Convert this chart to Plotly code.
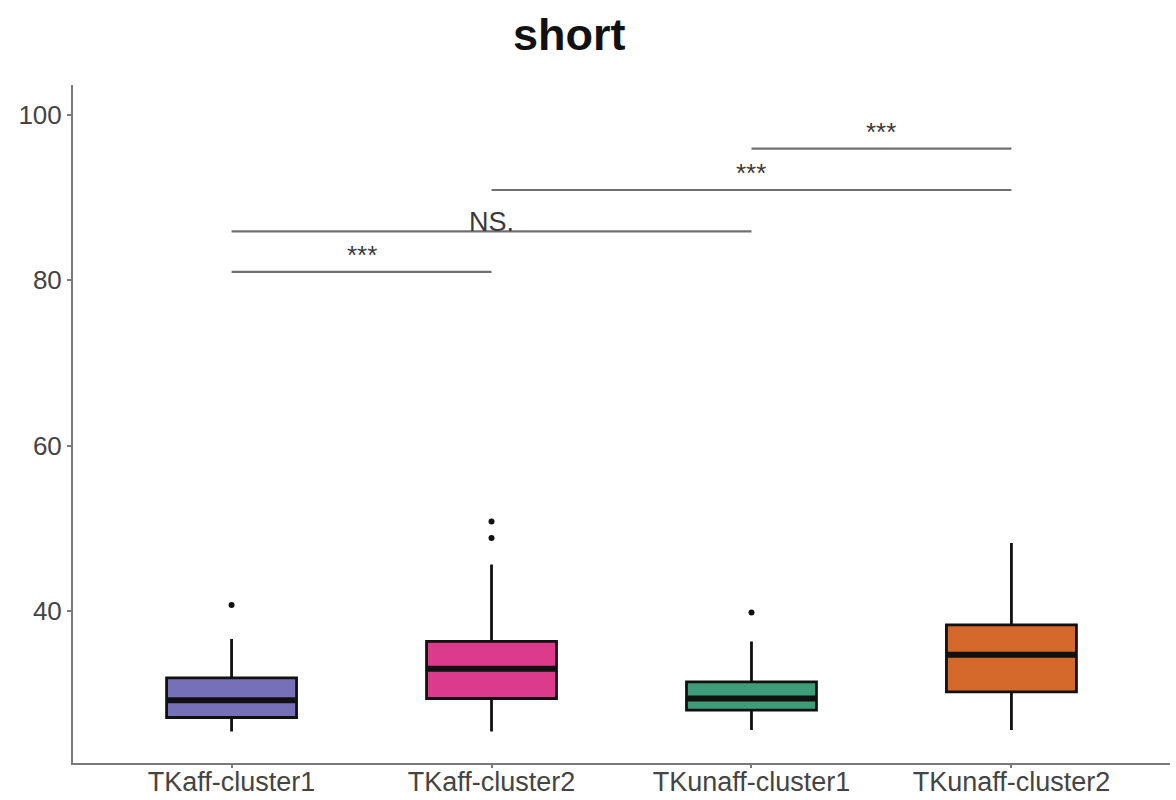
import plotly.graph_objects as go

categories = ["TKaff-cluster1", "TKaff-cluster2", "TKunaff-cluster1", "TKunaff-cluster2"]
q1 = [27.1, 29.4, 28.0, 30.2]
median = [29.2, 33.0, 29.4, 34.7]
q3 = [31.9, 36.3, 31.4, 38.3]
lower_whisker = [25.4, 25.4, 25.6, 25.6]
upper_whisker = [36.6, 45.6, 36.3, 48.2]
outlier_x = [0, 1, 1, 2]
outlier_y = [40.7, 48.8, 50.8, 39.8]
fill_colors = ["#7670b8", "#dc3a8a", "#3f9c7a", "#d4692b"]

# significance comparisons: (start index, end index, height, label)
comp_start = [0, 0, 1, 2]
comp_end = [1, 2, 3, 3]
comp_height = [81.0, 85.9, 90.9, 95.9]
comp_label = ["***", "NS.", "***", "***"]

y_ticks = [40, 60, 80, 100]

fig = go.Figure()
box_w = 0.5
for i, c in enumerate(categories):
    fig.add_trace(go.Box(
        x=[i], q1=[q1[i]], median=[median[i]], q3=[q3[i]],
        lowerfence=[lower_whisker[i]], upperfence=[upper_whisker[i]],
        width=box_w, whiskerwidth=0, fillcolor=fill_colors[i],
        line=dict(color="#111111", width=2.8), boxpoints=False,
        showlegend=False, hoverinfo="skip", name=c,
    ))
    fig.add_trace(go.Scatter(
        x=[i - box_w / 2, i + box_w / 2], y=[median[i], median[i]],
        mode="lines", line=dict(color="#111111", width=6),
        showlegend=False, hoverinfo="skip",
    ))

fig.add_trace(go.Scatter(
    x=outlier_x, y=outlier_y, mode="markers",
    marker=dict(color="#111111", size=6), showlegend=False, hoverinfo="skip",
))

for s, e, h, lab in zip(comp_start, comp_end, comp_height, comp_label):
    fig.add_shape(type="line", xref="x", yref="y", x0=s, x1=e, y0=h, y1=h,
                  line=dict(color="#707070", width=2.2))
    if lab == "NS.":
        fig.add_annotation(x=(s + e) / 2, y=h, xref="x", yref="y", text=lab,
                           showarrow=False, yanchor="middle", yshift=9,
                           font=dict(family="Liberation Sans, Arial", size=27, color="#3a3a3a"))
    else:
        fig.add_annotation(x=(s + e) / 2, y=h, xref="x", yref="y", text=lab,
                           showarrow=False, yanchor="bottom", yshift=0,
                           font=dict(family="Liberation Sans, Arial", size=26, color="#3a3a3a"))

fig.update_layout(
    width=1176, height=800,
    margin=dict(l=73, r=6, t=85, b=37),
    paper_bgcolor="white", plot_bgcolor="white",
    title=dict(text="<b>short</b>", x=0.484, xanchor="center", y=0.957, yanchor="middle",
               font=dict(family="Liberation Sans, Arial", size=45, color="#111111")),
    font=dict(family="Liberation Sans, Arial"),
    xaxis=dict(range=[-0.61, 3.61], tickmode="array", tickvals=list(range(len(categories))),
               ticktext=categories, showgrid=False, zeroline=False, showline=True,
               linecolor="#7a7a7a", linewidth=2, ticks="outside", ticklen=3,
               tickcolor="#7a7a7a", tickwidth=1.5, automargin=False,
               ticklabelstandoff=-9,
               tickfont=dict(size=27, color="#444444")),
    yaxis=dict(range=[21.6, 103.6], tickmode="array", tickvals=y_ticks,
               showgrid=False, zeroline=False, showline=True,
               linecolor="#7a7a7a", linewidth=2, ticks="outside", ticklen=4,
               tickcolor="#7a7a7a", tickwidth=1.5, automargin=False,
               tickfont=dict(size=26, color="#444444")),
)

fig.write_html("out.html")
